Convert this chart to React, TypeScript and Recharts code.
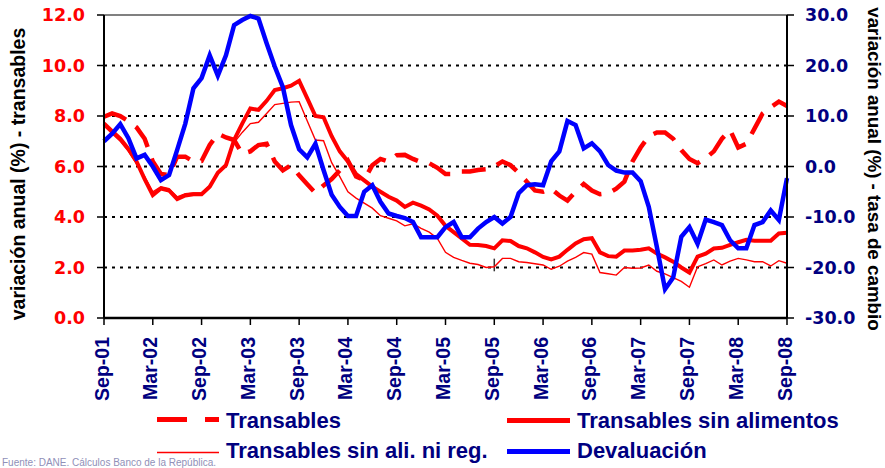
import React from "react";
import { ComposedChart, Line, XAxis, YAxis, CartesianGrid, ReferenceLine } from "recharts";

// tick labels, one every six months (Sep-01 .. Sep-08)
const TICK_LABELS = [
  "Sep-01", "Mar-02", "Sep-02", "Mar-03", "Sep-03", "Mar-04", "Sep-04", "Mar-05",
  "Sep-05", "Mar-06", "Sep-06", "Mar-07", "Sep-07", "Mar-08", "Sep-08",
];

// monthly series, Sep-01 .. Sep-08 (85 months)
const TRANSABLES = [
  7.97, 8.1, 8.0, 7.8, 7.55, 7.1, 6.2, 5.7, 5.66, 6.39, 6.39, 6.2, 6.22, 6.85, 7.3, 7.15, 7.05, 6.5,
  6.6, 6.85, 6.9, 6.2, 5.85, 6.05, 5.65, 5.3, 4.95, 5.25, 5.5, 5.85, 6.23, 5.6, 5.47, 6.05, 6.3, 6.19,
  6.45, 6.46, 6.3, 6.17, 6.13, 5.95, 5.7, 5.7, 5.8, 5.8, 5.86, 5.89, 6.0, 6.2, 6.05, 5.75, 5.4, 5.05,
  5.0, 5.12, 4.85, 4.65, 5.0, 5.31, 5.05, 4.9, 4.94, 5.12, 5.4, 6.2, 6.75, 7.2, 7.35, 7.35, 7.1, 6.65,
  6.3, 6.13, 6.33, 6.6, 7.1, 7.45, 6.75, 6.9, 7.5, 8.1, 8.35, 8.57, 8.4,
];

const SIN_ALIMENTOS = [
  7.7, 7.4, 7.1, 6.7, 6.2, 5.5, 4.87, 5.13, 5.05, 4.71, 4.85, 4.9, 4.9, 5.2, 5.75, 6.05, 7.05, 7.7,
  8.3, 8.24, 8.6, 9.03, 9.1, 9.2, 9.39, 8.7, 8.0, 7.95, 7.2, 6.6, 6.2, 5.7, 5.45, 5.2, 5.0, 4.8,
  4.65, 4.4, 4.57, 4.45, 4.3, 4.05, 3.65, 3.4, 3.15, 2.9, 2.89, 2.85, 2.76, 3.08, 3.05, 2.85, 2.76, 2.6,
  2.42, 2.32, 2.43, 2.7, 2.95, 3.12, 3.16, 2.6, 2.45, 2.43, 2.67, 2.67, 2.7, 2.76, 2.55, 2.4, 2.23, 2.0,
  1.8, 2.43, 2.55, 2.75, 2.78, 2.9, 3.0, 3.1, 3.06, 3.06, 3.06, 3.35, 3.38,
];

const SIN_ALI_NI_REG = [
  7.6, 7.3, 7.0, 6.6, 6.1, 5.6, 5.0, 5.2, 5.12, 4.8, 4.92, 4.95, 4.95, 5.25, 5.75, 6.0, 6.95, 7.35,
  7.7, 7.75, 8.1, 8.45, 8.5, 8.55, 8.57, 7.8, 7.05, 7.02, 6.15, 5.6, 5.0, 4.75, 4.55, 4.35, 4.05, 3.95,
  3.85, 3.65, 3.73, 3.55, 3.4, 3.15, 2.6, 2.4, 2.28, 2.17, 2.12, 2.0, 2.03, 2.36, 2.36, 2.23, 2.2, 2.15,
  2.1, 1.93, 2.05, 2.25, 2.4, 2.59, 2.53, 1.8, 1.75, 1.7, 2.0, 1.97, 1.98, 2.1, 1.85, 1.75, 1.6, 1.45,
  1.22, 2.03, 2.15, 2.3, 2.1, 2.25, 2.36, 2.3, 2.23, 2.23, 2.06, 2.27, 2.17,
];

const DEVALUACION = [
  5, 6.5, 8.4, 5.6, 1.6, 2.3, 0, -2.7, -1.7, 3.3, 8.5, 15.5, 17.5, 22, 18, 22, 28, 29,
  29.8, 29.3, 24.4, 19.8, 15.7, 8.2, 3.4, 1.8, 4.5, -0.7, -5.6, -8, -9.8, -9.8, -5, -3.7, -7, -9.3,
  -9.8, -10.2, -11, -14, -14, -14, -12, -11, -14, -14, -12.3, -11, -10, -11.3, -10, -5.3, -3.7, -3.5,
  -3.7, 1, 3, 9, 8.2, 3.6, 4.6, 3, 0.3, -0.8, -1.2, -1.2, -2.9, -8, -16, -24.3, -22, -13.9,
  -12, -15.3, -10.5, -11, -11.6, -14.6, -16.2, -16.2, -11.6, -11, -8.7, -10.6, -2.3,
];

const LEFT_TICKS = [0, 2, 4, 6, 8, 10, 12];
const RIGHT_TICKS = [-30, -20, -10, 0, 10, 20, 30];

const WIDE = "'DejaVu Sans', Verdana, sans-serif";
const ARIAL = "'Liberation Sans', Arial, sans-serif";
const NAVY = "#000080";
const RED = "#ff0000";
const BLUE = "#0000ff";

const data = TRANSABLES.map((t, i) => ({
  i,
  t,
  sa: SIN_ALIMENTOS[i],
  sar: SIN_ALI_NI_REG[i],
  dev: DEVALUACION[i],
}));

const MonthTick = (props: any) => {
  const { x, y, payload } = props;
  return (
    <text
      transform={`translate(${x + 4.5},${y + 10}) rotate(-90)`}
      textAnchor="end"
      fill={NAVY}
      fontFamily={ARIAL}
      fontWeight="bold"
      fontSize={19.5}
    >
      {TICK_LABELS[payload.value / 6]}
    </text>
  );
};

export default function App() {
  return (
    <div style={{ position: "absolute", left: 0, top: 0, width: 885, height: 468, overflow: "hidden", background: "#fff" }}>
      <ComposedChart width={885} height={468} data={data} margin={{ top: 15, right: 0, bottom: 0, left: 0 }}>
        <CartesianGrid
          yAxisId="left"
          vertical={false}
          stroke="#000"
          strokeWidth={2}
          strokeDasharray="3 5"
        />
        <XAxis
          dataKey="i"
          type="number"
          domain={[0, 84]}
          ticks={TICK_LABELS.map((_, k) => k * 6)}
          interval={0}
          height={150}
          tickSize={7}
          axisLine={{ stroke: "#000", strokeWidth: 2.5 }}
          tickLine={{ stroke: "#000", strokeWidth: 1.5 }}
          tick={<MonthTick />}
        />
        <YAxis
          yAxisId="left"
          domain={[0, 12]}
          ticks={LEFT_TICKS}
          width={104}
          tickSize={7}
          tickMargin={12}
          axisLine={{ stroke: "#000", strokeWidth: 2 }}
          tickLine={{ stroke: "#000", strokeWidth: 1.5 }}
          tick={{ fill: RED, fontFamily: WIDE, fontWeight: "bold", fontSize: 17.5 }}
          tickFormatter={(v: number) => v.toFixed(1)}
        />
        <YAxis
          yAxisId="right"
          orientation="right"
          domain={[-30, 30]}
          ticks={RIGHT_TICKS}
          width={98}
          tickSize={7}
          tickMargin={11}
          axisLine={{ stroke: "#000", strokeWidth: 2 }}
          tickLine={{ stroke: "#000", strokeWidth: 1.5 }}
          tick={{ fill: NAVY, fontFamily: WIDE, fontWeight: "bold", fontSize: 17.5 }}
          tickFormatter={(v: number) => v.toFixed(1)}
        />
        <ReferenceLine yAxisId="left" y={12} stroke="#808080" strokeWidth={2} />
        <ReferenceLine
          yAxisId="left"
          segment={[{ x: 48, y: 1.85 }, { x: 48, y: 2.35 }]}
          stroke="#333"
          strokeWidth={1.5}
        />
        <Line
          yAxisId="left"
          dataKey="t"
          stroke={RED}
          strokeWidth={4.5}
          strokeDasharray="24 12"
          dot={false}
          isAnimationActive={false}
        />
        <Line yAxisId="left" dataKey="sa" stroke={RED} strokeWidth={4} dot={false} isAnimationActive={false} />
        <Line yAxisId="left" dataKey="sar" stroke={RED} strokeWidth={1.4} dot={false} isAnimationActive={false} />
        <Line yAxisId="right" dataKey="dev" stroke={BLUE} strokeWidth={4.5} dot={false} isAnimationActive={false} />
      </ComposedChart>

      {/* axis titles, legend and source note */}
      <svg width={885} height={468} style={{ position: "absolute", left: 0, top: 0, pointerEvents: "none" }}>
        <text
          transform="translate(25,174) rotate(-90)"
          textAnchor="middle"
          fontFamily={ARIAL}
          fontWeight="bold"
          fontSize={19.5}
          fill="#000"
        >
          variación anual (%) - transables
        </text>
        <text
          transform="translate(868,169) rotate(90)"
          textAnchor="middle"
          fontFamily={ARIAL}
          fontWeight="bold"
          fontSize={18.8}
          fill="#000"
        >
          variación anual (%) - tasa de cambio
        </text>

        <g fontFamily={ARIAL} fontWeight="bold" fontSize={22} fill={NAVY}>
          <line x1={157} y1={419.5} x2={219} y2={419.5} stroke={RED} strokeWidth={5} strokeDasharray="30 18" />
          <text x={226} y={428}>Transables</text>
          <line x1={507} y1={420.5} x2={570} y2={420.5} stroke={RED} strokeWidth={5} />
          <text x={577} y={428}>Transables sin alimentos</text>
          <line x1={157} y1={452.5} x2={219} y2={452.5} stroke={RED} strokeWidth={1.5} />
          <text x={226} y={458}>Transables sin ali. ni reg.</text>
          <line x1={507} y1={451.5} x2={570} y2={451.5} stroke={BLUE} strokeWidth={5} />
          <text x={577} y={458}>Devaluación</text>
        </g>

        <text x={2} y={466} fontFamily={ARIAL} fontSize={10} fill="#9090b8">
          Fuente: DANE. Cálculos Banco de la República.
        </text>
      </svg>
    </div>
  );
}
